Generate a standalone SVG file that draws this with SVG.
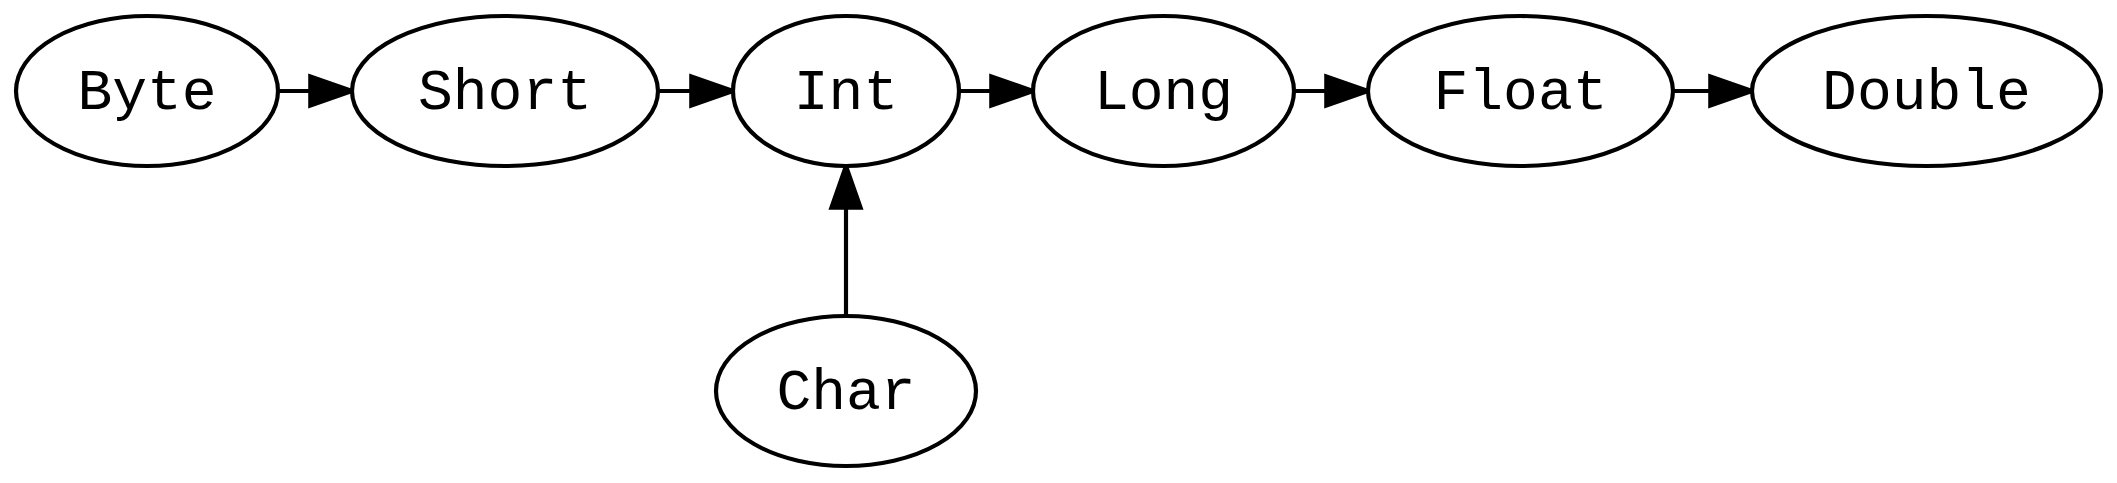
<svg xmlns="http://www.w3.org/2000/svg" width="2117" height="483" viewBox="0 0 2117 483">
<style>
.n ellipse{fill:#fff;stroke:#000;stroke-width:4.17}
.n text{font-family:"Liberation Mono","Courier New",monospace;font-size:58px;text-anchor:middle;fill:#000}
.e line{stroke:#000;stroke-width:4.17}
.e polygon{fill:#000;stroke:#000;stroke-width:4.17}
</style>
<rect width="2117" height="483" fill="#fff"/>
<g id="connectors" class="e">
<line x1="278" y1="91" x2="311" y2="91"/><polygon points="352,91 310.3,76.4 310.3,105.6"/>
<line x1="658" y1="91" x2="692" y2="91"/><polygon points="733,91 691.3,76.4 691.3,105.6"/>
<line x1="959" y1="91" x2="992" y2="91"/><polygon points="1033,91 991.3,76.4 991.3,105.6"/>
<line x1="1294" y1="91" x2="1327" y2="91"/><polygon points="1368,91 1326.3,76.4 1326.3,105.6"/>
<line x1="1673" y1="91" x2="1711" y2="91"/><polygon points="1752,91 1710.3,76.4 1710.3,105.6"/>
<line x1="846" y1="316" x2="846" y2="207"/><polygon points="846,166 831.4,207.7 860.6,207.7"/>
</g>
<g id="node-byte" class="n"><ellipse cx="147" cy="91" rx="131" ry="75"/><text x="147" y="109">Byte</text></g>
<g id="node-short" class="n"><ellipse cx="505" cy="91" rx="153" ry="75"/><text x="505" y="109">Short</text></g>
<g id="node-int" class="n"><ellipse cx="846" cy="91" rx="113" ry="75"/><text x="846" y="109">Int</text></g>
<g id="node-long" class="n"><ellipse cx="1163.5" cy="91" rx="130.5" ry="75"/><text x="1163.5" y="109">Long</text></g>
<g id="node-float" class="n"><ellipse cx="1520.5" cy="91" rx="152.5" ry="75"/><text x="1520.5" y="109">Float</text></g>
<g id="node-double" class="n"><ellipse cx="1926.5" cy="91" rx="174.5" ry="75"/><text x="1926.5" y="109">Double</text></g>
<g id="node-char" class="n"><ellipse cx="846" cy="391" rx="130" ry="75"/><text x="846" y="409">Char</text></g>
</svg>
